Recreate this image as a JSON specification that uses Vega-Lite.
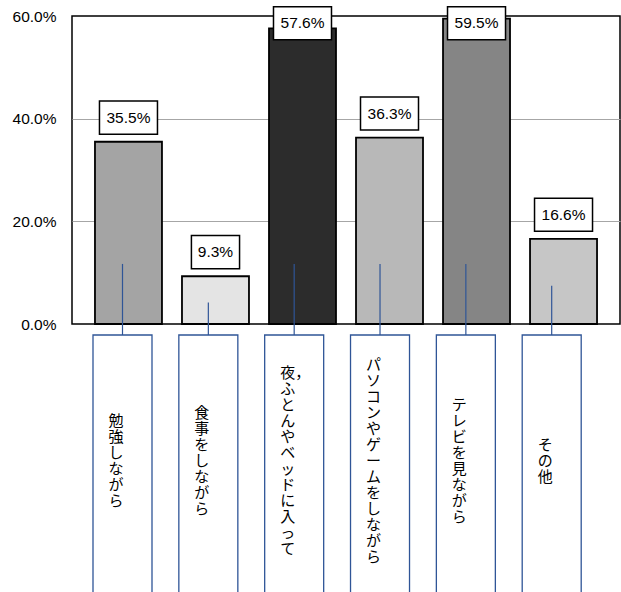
{
  "$schema": "https://vega.github.io/schema/vega-lite/v6.json",
  "width": 548,
  "height": 308,
  "autosize": {"type": "none"},
  "padding": {"left": 72, "top": 16, "right": 1, "bottom": 268},
  "background": "white",
  "config": {
    "view": {"stroke": "black", "strokeWidth": 1.5},
    "text": {"font": "Liberation Sans, sans-serif"}
  },
  "data": {
    "values": [
      {"cat": "勉強しながら", "value": 35.5},
      {"cat": "食事をしながら", "value": 9.3},
      {"cat": "夜，ふとんやベッドに入って", "value": 57.6},
      {"cat": "パソコンやゲームをしながら", "value": 36.3},
      {"cat": "テレビを見ながら", "value": 59.5},
      {"cat": "その他", "value": 16.6}
    ]
  },
  "transform": [
    {"calculate": "min(datum.value + 4.7, 58.6)", "as": "labelY"},
    {"calculate": "min(datum.value * 0.45, 11.7)", "as": "leaderTop"},
    {"calculate": "replace(join(split(datum.cat, ''), '\\n'), '\\n，', '，')", "as": "vtext"},
    {"calculate": "-26.6 + (length(split(datum.vtext, '\\n')) - 1) * 8 / 5.1333", "as": "textY"},
    {"calculate": "format(datum.value, '.1f') + '%'", "as": "vlabel"}
  ],
  "layer": [
    {
      "encoding": {
        "x": {
          "field": "cat", "type": "nominal", "sort": null,
          "scale": {"paddingInner": 0.23, "paddingOuter": 0.264, "round": false},
          "axis": null
        }
      },
      "layer": [
        {
          "mark": {"type": "bar", "stroke": "black", "strokeWidth": 1.8},
          "encoding": {
            "y": {
              "field": "value", "type": "quantitative",
              "scale": {"domain": [0, 60], "nice": false, "zero": true},
              "axis": {
                "values": [0, 20, 40, 60],
                "labelExpr": "format(datum.value, '.1f') + '%'",
                "title": null,
                "ticks": false,
                "tickSize": 0,
                "domain": false,
                "labelPadding": 16,
                "labelFont": "Liberation Sans, sans-serif",
                "labelFontSize": 15.5,
                "labelColor": "black",
                "grid": true,
                "gridColor": "#a6a6a6",
                "gridWidth": 1,
                "gridOpacity": {"condition": {"test": "datum.value == 0 || datum.value == 60", "value": 0}, "value": 1}
              }
            },
            "fill": {
              "field": "cat", "type": "nominal", "sort": null, "legend": null,
              "scale": {
                "domain": ["勉強しながら", "食事をしながら", "夜，ふとんやベッドに入って", "パソコンやゲームをしながら", "テレビを見ながら", "その他"],
                "range": ["#a4a4a4", "#e4e4e4", "#2c2c2c", "#b8b8b8", "#858585", "#c6c6c6"]
              }
            }
          }
        },
        {
          "mark": {"type": "point", "filled": true, "fill": "white", "stroke": "black", "strokeWidth": 1.5, "opacity": 1, "fillOpacity": 1},
          "encoding": {
            "y": {"field": "labelY", "type": "quantitative"},
            "shape": {
              "condition": {"test": "datum.value < 10", "value": "M-0.83,-0.57H0.83V0.57H-0.83Z"},
              "value": "M-1,-0.57H1V0.57H-1Z"
            },
            "size": {"value": 3364}
          }
        },
        {
          "mark": {"type": "text", "font": "Liberation Sans, sans-serif", "fontSize": 15.5, "color": "black", "baseline": "middle", "align": "center"},
          "encoding": {
            "y": {"field": "labelY", "type": "quantitative"},
            "text": {"field": "vlabel", "type": "nominal"}
          }
        }
      ]
    },
    {
      "encoding": {
        "x": {
          "field": "cat", "type": "nominal", "sort": null,
          "scale": {"paddingInner": 0, "paddingOuter": 0.192, "align": 0.23, "round": false},
          "axis": null
        }
      },
      "layer": [
        {
          "mark": {"type": "rule", "stroke": "#2F5597", "strokeWidth": 1.2, "y2Offset": 11},
          "encoding": {
            "y": {"field": "leaderTop", "type": "quantitative"},
            "y2": {"datum": 0}
          }
        },
        {
          "mark": {"type": "bar", "width": 59, "fill": "white", "stroke": "#2F5597", "strokeWidth": 1.3, "yOffset": 11, "y2Offset": 11},
          "encoding": {
            "y": {"datum": 0, "type": "quantitative"},
            "y2": {"datum": -60}
          }
        },
        {
          "mark": {"type": "text", "font": "Noto Sans CJK JP", "fontSize": 15, "color": "black", "align": "left", "baseline": "middle", "lineBreak": "\n", "lineHeight": 16, "xOffset": -14},
          "encoding": {
            "y": {"field": "textY", "type": "quantitative"},
            "text": {"field": "vtext", "type": "nominal"}
          }
        }
      ]
    }
  ],
  "resolve": {"scale": {"x": "independent"}}
}
